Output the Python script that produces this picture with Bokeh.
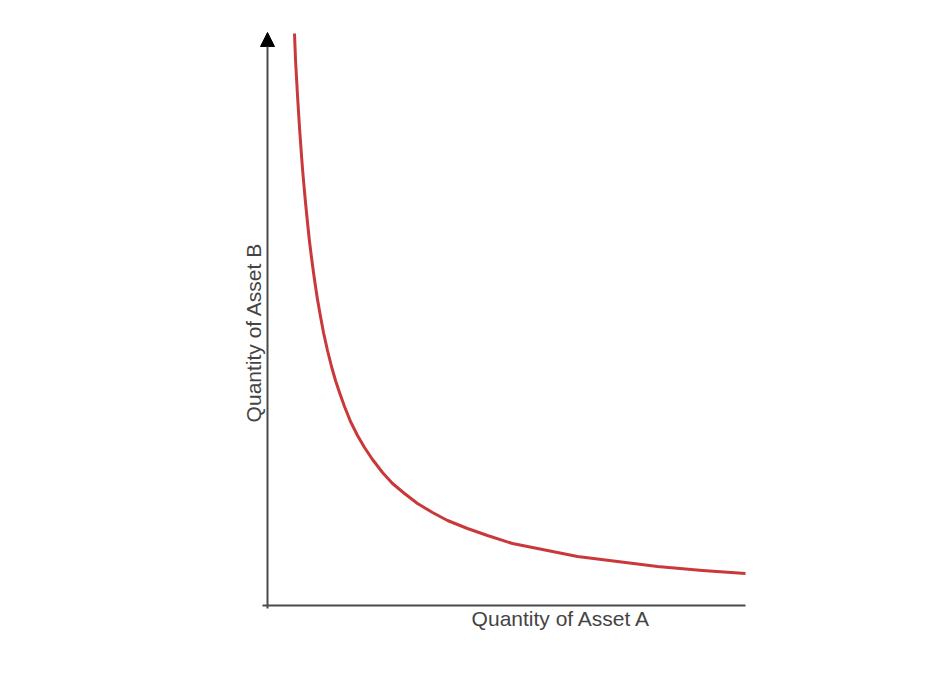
from bokeh.plotting import figure
from bokeh.models import Range1d, Arrow, NormalHead
from bokeh.core.properties import value
from bokeh.embed import file_html
from bokeh.resources import INLINE

# Indifference-style curve (arbitrary units)
quantity_a = [27, 28, 29, 30, 31, 32, 33, 34, 35, 36, 38, 40, 42, 44, 46, 48, 50, 53, 56,
              60, 64, 68, 72, 77, 83, 90, 97, 105, 115, 125, 137, 150, 165, 180, 200,
              220, 245, 275, 310, 350, 390, 435, 478]
quantity_b = [572, 546, 528, 510, 494, 478, 464, 450, 437, 425, 403, 383, 364, 348, 333,
              319, 306, 289, 273, 255, 239, 225, 213, 199, 184, 170, 158, 146, 133, 122,
              112, 102, 93, 85, 77, 70, 62, 56, 49, 44, 39, 35, 32]

x_label = "Quantity of Asset A"
y_label = "Quantity of Asset B"
x_axis_end = 478
y_axis_end = 573

p = figure(width=914, height=664, output_backend="svg", toolbar_location=None,
           x_range=Range1d(-267, 647), y_range=Range1d(-59, 605),
           min_border=0, min_border_left=0, min_border_right=0,
           min_border_top=0, min_border_bottom=0)
p.axis.visible = False
p.grid.visible = False
p.outline_line_color = None
p.background_fill_color = "white"
p.border_fill_color = "white"

axis_col = "#4a4a4a"
# x axis line
p.segment(x0=[-5], y0=[0], x1=[x_axis_end], y1=[0], line_color=axis_col, line_width=2)
# y axis with arrow
p.add_layout(Arrow(end=NormalHead(size=14, fill_color="black", line_color="black", line_width=1),
                   x_start=0, y_start=-3, x_end=0, y_end=y_axis_end,
                   line_color=axis_col, line_width=2))

# curve
p.line(quantity_a, quantity_b, line_color="#c9383a", line_width=3, line_join="round")

# labels
p.text(x=[294], y=[-13], text=[x_label], text_font=value("Liberation Sans"),
       text_font_size="21px", text_color="#444444", text_align="center",
       text_baseline="middle")
p.text(x=[-14], y=[273], text=[y_label], text_font=value("Liberation Sans"),
       text_font_size="21px", text_color="#444444", text_align="center",
       text_baseline="middle", angle=1.5707963)

open("out.html", "w").write(file_html(p, INLINE))
